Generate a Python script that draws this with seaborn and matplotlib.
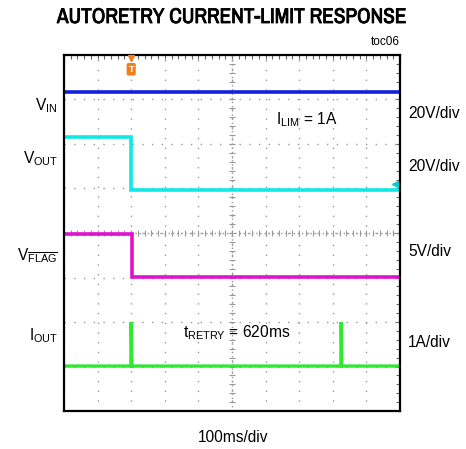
import matplotlib
matplotlib.use("Agg")
import matplotlib.pyplot as plt
import matplotlib.font_manager as fm
import matplotlib.patheffects as pe
from matplotlib.ticker import MultipleLocator
import seaborn as sns
import pandas as pd

# ---- data (time in ms, amplitude in scope divisions from bottom) ----
vin_t = [0, 1000]
vin_div = [7.17, 7.17]
vout_t = [0, 200, 200, 1000]
vout_div = [6.16, 6.16, 4.97, 4.97]
vflag_t = [0, 202, 202, 1000]
vflag_div = [3.98, 3.98, 3.01, 3.01]
iout_t = [0, 199, 200, 202, 824, 825, 827, 1000]
iout_div = [1.01, 1.01, 2.0, 1.01, 1.01, 2.0, 1.01, 1.01]

trace_names = ["VIN", "VOUT", "VFLAG", "IOUT"]
trace_colors = ["#1020e0", "#10e8e8", "#e010d0", "#30e830"]
left_labels = ["V$_{\\mathrm{IN}}$", "V$_{\\mathrm{OUT}}$",
               "V$_{\\overline{\\mathrm{FLAG}}}$", "I$_{\\mathrm{OUT}}$"]
right_labels = ["20V/div", "20V/div", "5V/div", "1A/div"]
title = "AUTORETRY CURRENT-LIMIT RESPONSE"
tag = "toc06"
ilim_text = "I$_{\\mathrm{LIM}}$ = 1A"
tretry_text = "t$_{\\mathrm{RETRY}}$ = 620ms"
xscale_text = "100ms/div"
trigger_ms = 200

sns.set_style("white")
fonts = fm.fontManager.ttflist
names = {f.name for f in fonts}
base = "Liberation Sans" if "Liberation Sans" in names else "DejaVu Sans"
narrow = "Archivo Narrow" if "Archivo Narrow" in names else "DejaVu Sans"
plt.rcParams["font.family"] = [base, "DejaVu Sans"]
plt.rcParams["text.color"] = "black"
plt.rcParams["mathtext.fontset"] = "custom"
plt.rcParams["mathtext.rm"] = base
plt.rcParams["mathtext.it"] = base + ":italic"
plt.rcParams["mathtext.bf"] = base + ":bold"

W, H = 466, 449
fig = plt.figure(figsize=(W / 100, H / 100), dpi=100)
ax = fig.add_axes([64 / W, 1 - 411 / H, 336 / W, 356 / H])

frames = []
for name, t, v in [("VIN", vin_t, vin_div), ("VOUT", vout_t, vout_div),
                   ("VFLAG", vflag_t, vflag_div), ("IOUT", iout_t, iout_div)]:
    frames.append(pd.DataFrame({"t": t, "v": v, "trace": name}))
df = pd.concat(frames, ignore_index=True)

for name, col in zip(trace_names, trace_colors):
    sub = df[df.trace == name]
    sns.lineplot(data=sub, x="t", y="v", estimator=None, sort=False,
                 color=col, lw=2.6 if name != "IOUT" else 2.4, ax=ax,
                 solid_joinstyle="miter")

ax.set_xlim(0, 1000)
ax.set_ylim(0, 8)
ax.set_xlabel("")
ax.set_ylabel("")
ax.xaxis.set_major_locator(MultipleLocator(100))
ax.yaxis.set_major_locator(MultipleLocator(1))
ax.xaxis.set_minor_locator(MultipleLocator(20))
ax.yaxis.set_minor_locator(MultipleLocator(0.2))
ax.set_xticklabels([])
ax.set_yticklabels([])
ax.tick_params(which="both", direction="in", top=True, right=True,
               length=3, width=0.8, color="#666666")
ax.grid(True, which="major", color="#999999", linestyle=(0, (1, 6)), lw=1)
for s in ax.spines.values():
    s.set_color("black")
    s.set_linewidth(1.6)

# center cross with tick marks
ax.axhline(4, color="#999999", linestyle=(0, (1, 2)), lw=1, zorder=1)
ax.axvline(500, color="#999999", linestyle=(0, (1, 2)), lw=1, zorder=1)
xs = list(range(0, 1001, 20))
ax.plot(xs, [4] * len(xs), ls="none", marker="|", ms=4, color="#999999", mew=0.8, zorder=1)
ys = [i * 0.2 for i in range(41)]
ax.plot([500] * len(ys), ys, ls="none", marker="_", ms=4, color="#999999", mew=0.8, zorder=1)

# trigger marker
ax.plot([trigger_ms], [7.93], marker="v", ms=5, color="#f07d1a", clip_on=False, zorder=5)
ax.text(trigger_ms, 7.68, "T", ha="center", va="center", color="white",
        fontsize=6.5, fontweight="bold",
        bbox=dict(boxstyle="round,pad=0.2", fc="#f07d1a", ec="none"), zorder=5)
# ground marker for VOUT channel
ax.plot([985], [5.1], marker="<", ms=4, color="#10c8c8", zorder=5)


def px(x, y):
    return x / W, 1 - y / H


fs = 11.2
left_base = [110, 163, 260, 340]
for lab, yb in zip(left_labels, left_base):
    fig.text(*px(58, yb), lab, ha="right", va="baseline", fontsize=fs)
right_base = [118, 171, 256, 347]
for lab, yb in zip(right_labels, right_base):
    fig.text(*px(408, yb), lab, ha="left", va="baseline", fontsize=fs)

fig.text(*px(276, 124), ilim_text, ha="left", va="baseline", fontsize=fs)
fig.text(*px(183, 337), tretry_text, ha="left", va="baseline", fontsize=fs)
fig.text(*px(233, 442), xscale_text, ha="center", va="baseline", fontsize=fs)
fig.text(*px(232, 23), title, ha="center", va="baseline", fontsize=15.3,
         fontweight="bold", family=[narrow, "DejaVu Sans"],
         path_effects=[pe.withStroke(linewidth=0.6, foreground="black")])
fig.text(*px(400, 45), tag, ha="right", va="baseline", fontsize=8.5)

fig.savefig("out.png", dpi=100)
